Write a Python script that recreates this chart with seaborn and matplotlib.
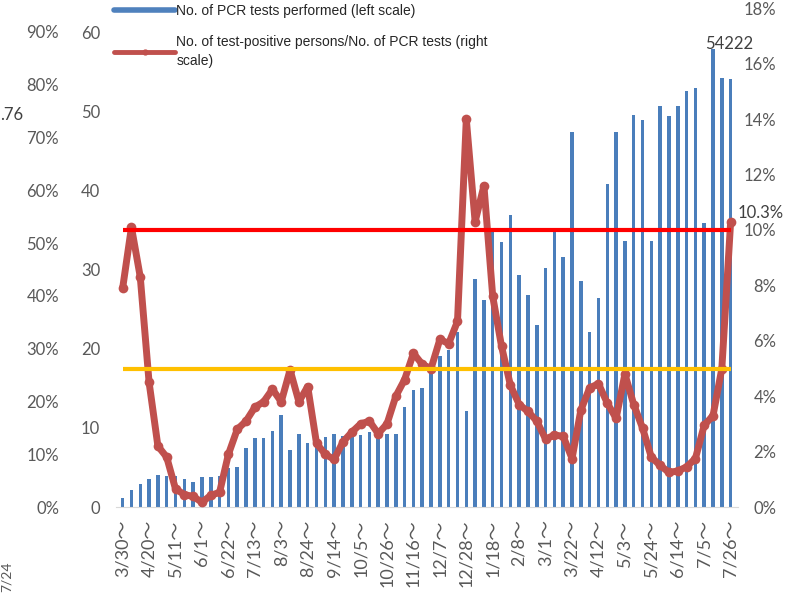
import numpy as np
import pandas as pd
import matplotlib
matplotlib.use('Agg')
import matplotlib.pyplot as plt
import seaborn as sns
from matplotlib.lines import Line2D
from matplotlib.ticker import FuncFormatter

# weekly data, 2020/3/30 - 2021/7/26
weeks = ['3/30', '4/6', '4/13', '4/20', '4/27', '5/4', '5/11', '5/18', '5/25', '6/1',
         '6/8', '6/15', '6/22', '6/29', '7/6', '7/13', '7/20', '7/27', '8/3', '8/10',
         '8/17', '8/24', '8/31', '9/7', '9/14', '9/21', '9/28', '10/5', '10/12', '10/19',
         '10/26', '11/2', '11/9', '11/16', '11/23', '11/30', '12/7', '12/14', '12/21', '12/28',
         '1/4', '1/11', '1/18', '1/25', '2/1', '2/8', '2/15', '2/22', '3/1', '3/8',
         '3/15', '3/22', '3/29', '4/5', '4/12', '4/19', '4/26', '5/3', '5/10', '5/17',
         '5/24', '5/31', '6/7', '6/14', '6/21', '6/28', '7/5', '7/12', '7/19', '7/26']

# No. of PCR tests performed (thousands)
pcr_tests = [1.2, 2.1, 2.9, 3.5, 4.1, 3.9, 3.9, 3.5, 3.2, 3.8,
             3.8, 3.9, 4.9, 5.0, 7.5, 8.7, 8.7, 9.6, 11.6, 7.2,
             9.2, 8.1, 8.0, 8.9, 9.3, 9.0, 9.2, 9.1, 9.5, 8.9,
             9.3, 9.3, 12.7, 14.8, 15.0, 17.0, 19.1, 19.9, 22.1, 12.2,
             28.8, 26.2, 35.0, 33.5, 36.9, 29.4, 26.8, 23.0, 30.2, 35.0,
             31.7, 47.5, 28.6, 22.2, 26.5, 40.9, 47.5, 33.7, 49.6, 49.0,
             33.7, 50.7, 49.5, 50.7, 52.6, 53.0, 36.0, 57.9, 54.3, 54.222]

# test-positive persons / PCR tests (%)
positivity = [7.9, 10.1, 8.3, 4.5, 2.2, 1.8, 0.65, 0.45, 0.38, 0.17,
              0.42, 0.53, 1.9, 2.8, 3.1, 3.6, 3.8, 4.25, 3.8, 4.95,
              3.8, 4.35, 2.3, 1.9, 1.72, 2.35, 2.7, 3.0, 3.1, 2.65,
              3.0, 4.0, 4.6, 5.55, 5.15, 5.0, 6.05, 5.9, 6.7, 14.0,
              10.3, 11.6, 7.6, 5.8, 4.4, 3.7, 3.45, 3.1, 2.45, 2.6,
              2.55, 1.75, 3.5, 4.3, 4.45, 3.75, 3.2, 4.8, 3.7, 2.85,
              1.8, 1.5, 1.25, 1.3, 1.45, 1.75, 2.95, 3.3, 5.0, 10.3]

red_level = 10
orange_level = 5

# axis of the neighbouring (cropped) chart on the left
outer_ticks = [0, 10, 20, 30, 40, 50, 60, 70, 80, 90]

df = pd.DataFrame({'week': weeks, 'tests': pcr_tests, 'rate': positivity})
df['pos'] = np.arange(len(df))

sns.set_style('white')
plt.rcParams['font.family'] = ['Lato', 'Noto Sans CJK JP', 'DejaVu Sans']
grey = '#595959'

fig = plt.figure(figsize=(7.91, 5.96), dpi=100)
W, H = 791, 596
ax = fig.add_axes([115.6 / W, 89 / H, 622.1 / W, 498.6 / H])

sns.barplot(data=df, x='pos', y='tests', native_scale=True, color='#4A7EBB',
            saturation=1, width=0.4, linewidth=0, ax=ax)
ax.set_xlim(-0.8, 69.8)
ax.set_ylim(0, 63.1)
ax.set_yticks(range(0, 61, 10))
ax.set_xticks(df['pos'][::3])
ax.set_xticklabels([w + '〜' for w in df['week'][::3]], rotation=90)
ax.set_xlabel('')
ax.set_ylabel('')
ax.tick_params(axis='y', length=0, pad=11, labelsize=12, labelcolor=grey)
ax.tick_params(axis='x', length=0, pad=9, labelsize=13, labelcolor=grey)
sns.despine(ax=ax, left=True, right=True, top=True)
ax.spines['bottom'].set_color('#D9D9D9')

ax.annotate(f'{round(pcr_tests[-1] * 1000)}', xy=(df['pos'].iloc[-1], pcr_tests[-1]),
            xytext=(-1, 25), textcoords='offset points', ha='center', va='center',
            fontsize=12, color='#404040')

ax2 = ax.twinx()
sns.lineplot(data=df, x='pos', y='rate', ax=ax2, color='#C0504D', linewidth=5,
             marker='o', markersize=7, markeredgewidth=0, zorder=3)
ax2.hlines(red_level, df['pos'].iloc[0], df['pos'].iloc[-1], color='#FF0000', lw=3, zorder=5)
ax2.hlines(orange_level, df['pos'].iloc[0], df['pos'].iloc[-1], color='#FFC000', lw=3, zorder=5)
ax2.set_ylim(0, 18)
ax2.set_yticks(range(0, 19, 2))
ax2.yaxis.set_major_formatter(FuncFormatter(lambda v, p: f'{v:.0f}%'))
ax2.set_xlim(-0.8, 69.8)
ax2.set_xlabel('')
ax2.set_ylabel('')
ax2.tick_params(axis='y', length=0, pad=28, labelsize=12, labelcolor=grey)
plt.setp(ax2.get_yticklabels(), ha='right')
for s in ax2.spines.values():
    s.set_visible(False)

ax2.annotate(f'{positivity[-1]}%', xy=(df['pos'].iloc[-1], positivity[-1]),
             xytext=(5, 6), textcoords='offset points', ha='left', va='center',
             fontsize=12, color='#404040')

# legend
handles = [Line2D([], [], color='#4F81BD', lw=4),
           Line2D([], [], color='#C0504D', lw=3.5, marker='o', markersize=3.5)]
labels = ['No. of PCR tests performed (left scale)',
          'No. of test-positive persons/No. of PCR tests (right\nscale)']
leg = fig.legend(handles, labels, loc='upper left', bbox_to_anchor=(114 / W, 1 - 4 / H),
                 frameon=False, handlelength=4.4, handletextpad=0.1, labelspacing=1.2,
                 borderpad=0, borderaxespad=0,
                 prop={'family': 'Liberation Sans', 'size': 10})
plt.setp(leg.get_texts(), linespacing=1.45)

# cropped axis of the chart to the left
ax0 = fig.add_axes([62 / W, 89 / H, 0.001, 475 / H])
ax0.set_ylim(0, 90)
ax0.set_yticks(outer_ticks)
ax0.yaxis.set_major_formatter(FuncFormatter(lambda v, p: f'{v:.0f}%'))
ax0.set_xticks([])
ax0.tick_params(axis='y', length=0, pad=2, labelsize=12, labelcolor=grey)
for s in ax0.spines.values():
    s.set_visible(False)
ax0.patch.set_alpha(0)

fig.text(0.0, 1 - 115 / H, '.76', ha='left', va='center', fontsize=12, color='#404040')
fig.text(0.001, 4 / H, '7/24', ha='left', va='bottom', rotation=90, fontsize=10, color=grey)

fig.savefig('out.png', dpi=100)
